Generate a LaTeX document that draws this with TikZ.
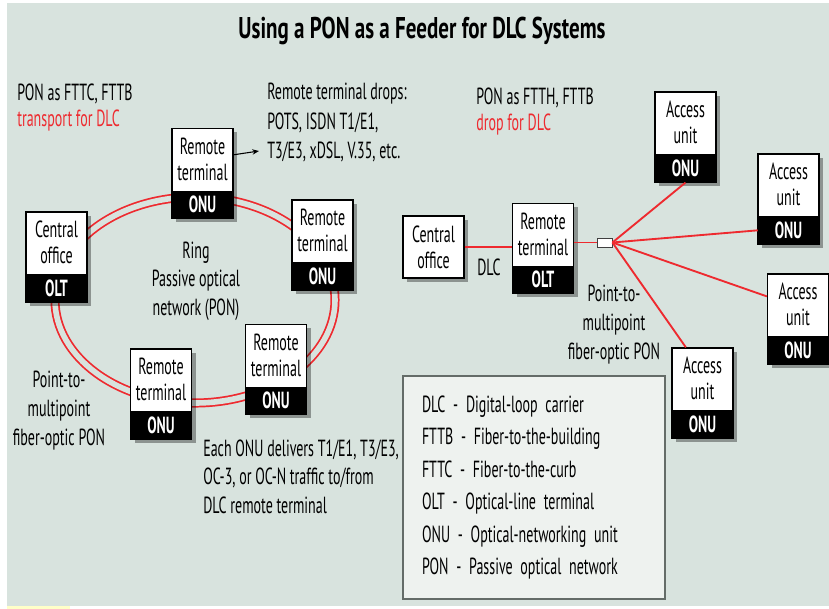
\documentclass[tikz,border=0pt]{standalone}
\usepackage{fontspec}
\setmainfont{PT Sans}[FakeStretch=0.6]
\newfontfamily\headingfont{PT Sans}[FakeStretch=0.70]
\usetikzlibrary{shadows,arrows.meta}

\definecolor{paper}{HTML}{D8E3DE}
\definecolor{fibre}{HTML}{EE2A2F}
\definecolor{legendfill}{HTML}{EEF2EF}
\definecolor{legendline}{HTML}{646C68}
\definecolor{stripe}{HTML}{FFFFC8}

% A network unit: white frame with a two-line label and a black bar at the bottom
\newcommand\netunit[5]{%
  \node[unitframe] (#1) at (#2) {};
  \node[unitbar] (#1-bar) at (#1.south) {#5};
  \node[unitlabel] (#1-text) at ([yshift=-23.25pt]#1.north) {#3\\#4};
}

\begin{document}
\begin{tikzpicture}[
  x=0.75pt, y=-0.75pt,
  bodytext/.style={inner sep=0pt, font=\fontsize{17.5}{21.5}\selectfont},
  unitframe/.style={draw=black, line width=0.9pt, fill=white, inner sep=0pt,
    minimum width=45.75pt, minimum height=67.5pt,
    drop shadow={shadow xshift=3pt, shadow yshift=-3pt, opacity=0.35, fill=black}},
  plainframe/.style={unitframe, minimum height=46.5pt},
  unitbar/.style={anchor=south, fill=black, text=white, inner sep=0pt,
    minimum width=45.75pt, minimum height=21pt,
    font=\bfseries\fontsize{17.5}{19.5}\selectfont},
  unitlabel/.style={inner sep=0pt, align=center, font=\fontsize{17.5}{19.5}\selectfont},
  ring/.style={draw=fibre, line width=1.3pt, double=paper, double distance=4.2pt},
  fibreline/.style={draw=fibre, line width=1.4pt},
  splitter/.style={draw=black!75, fill=white, line width=0.6pt, inner sep=0pt,
    minimum width=11.25pt, minimum height=6.75pt},
  legend/.style={draw=legendline, line width=1.5pt, fill=legendfill,
    inner xsep=14.25pt, inner ysep=0pt, text width=168pt, minimum height=167.25pt,
    align=left, font=\fontsize{17.5}{24.3}\selectfont},
]
\useasboundingbox (0,0) rectangle (829,609);
\fill[white] (0,0) rectangle (829,609);
\fill[paper] (7,3) rectangle (829,606);
\fill[stripe] (7,606) rectangle (70,609);

% Title
\node[font=\headingfont\bfseries\fontsize{22.5}{26}\selectfont, inner sep=0pt] (title) at (422,31)
  {Using a PON as a Feeder for DLC Systems};

% ---------- Ring PON (left) ----------
\coordinate (ringc) at (195,300);
\draw[ring] (ringc) ellipse [x radius=140, y radius=103];

\netunit{co}{56.5,257}{Central}{office}{OLT}
\netunit{rt1}{202.5,173.5}{Remote}{terminal}{ONU}
\netunit{rt2}{322.5,245}{Remote}{terminal}{ONU}
\netunit{rt3}{276,369.5}{Remote}{terminal}{ONU}
\netunit{rt4}{161,394}{Remote}{terminal}{ONU}

\node[bodytext, align=left, anchor=west, font=\fontsize{17.5}{19.5}\selectfont] (ponl) at (17,108)
  {PON as FTTC, FTTB\\\textcolor{fibre}{transport for DLC}};
\node[bodytext, align=left, anchor=west, font=\fontsize{17.5}{22}\selectfont] (drops) at (267,122.5)
  {Remote terminal drops:\\POTS, ISDN T1/E1,\\T3/E3, xDSL, V.35, etc.};
\coordinate (dropsend) at (259,151);
\draw[-{Stealth[length=5pt,width=4pt]}, line width=0.8pt] (rt1.31) -- (dropsend);

\node[bodytext, align=center] (ringlabel) at (196,281)
  {Ring\\Passive optical\\network (PON)};
\node[bodytext, align=center] (ptmpl) at (59,410.5)
  {Point-to-\\multipoint\\fiber-optic PON};
\node[bodytext, align=left, anchor=west] (each) at (203,476.5)
  {Each ONU delivers T1/E1, T3/E3,\\OC-3, or OC-N traffic to/from\\DLC remote terminal};

% ---------- Point-to-multipoint PON (right) ----------
\node[plainframe] (co2) at (433.5,247) {};
\node[unitlabel] (co2-text) at (co2) {Central\\office};
\netunit{rt5}{543,248.5}{Remote}{terminal}{OLT}
\node[splitter] (spl) at (604.5,242.5) {};

\netunit{au1}{685.5,137}{Access}{unit}{ONU}
\netunit{au2}{788.5,199}{Access}{unit}{ONU}
\netunit{au3}{798,319}{Access}{unit}{ONU}
\netunit{au4}{702.5,393}{Access}{unit}{ONU}

\draw[fibreline] (co2.east) -- (co2.east -| rt5.west);
\draw[fibreline] (rt5.east |- spl.west) -- (spl.west);
\draw[fibreline] (spl.east) -- (au1.south);
\draw[fibreline] (spl.east) -- (au2-bar.west);
\draw[fibreline] (spl.east) -- (au3.144);
\draw[fibreline] (spl.east) -- (au4.110);

\node[bodytext, align=left, anchor=west, font=\fontsize{17.5}{19.5}\selectfont] (ponr) at (476,112)
  {PON as FTTH, FTTB\\\textcolor{fibre}{drop for DLC}};
\node[bodytext] (dlc) at (489,267) {DLC};
\node[bodytext, align=center, font=\fontsize{17.5}{22}\selectfont] (ptmpr) at (614,324.5)
  {Point-to-\\multipoint\\fiber-optic PON};

% ---------- Legend ----------
\node[legend] (legendbox) at (534,487.5)
  {DLC - Digital-loop carrier\\
   FTTB - Fiber-to-the-building\\
   FTTC - Fiber-to-the-curb\\
   OLT - Optical-line terminal\\
   ONU - Optical-networking unit\\
   PON - Passive optical network};
\end{tikzpicture}
\end{document}
